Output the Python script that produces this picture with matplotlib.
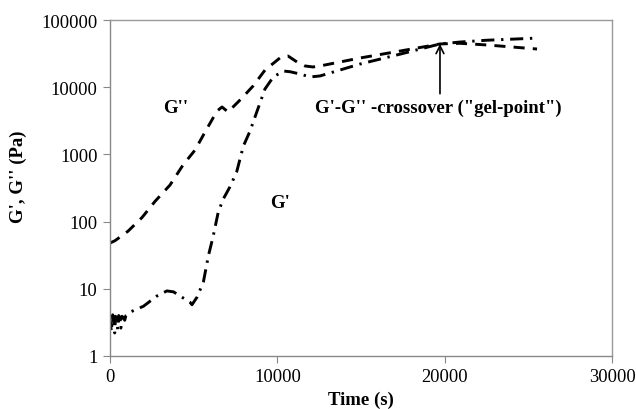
import matplotlib
matplotlib.use("Agg")
import matplotlib.pyplot as plt

# G'' (loss modulus), dashed
time_g2 = [0, 300, 1076, 1913, 2690, 3586, 4363, 5081, 5678, 6396, 6694, 7053, 7830,
           8548, 9265, 10221, 10640, 11178, 11656, 12130, 12550, 14940, 17330, 19720,
           20920, 22530, 25520]
g2 = [48, 52, 72, 115, 200, 350, 695, 1160, 2150, 4420, 5080, 4280, 6670,
      10400, 18000, 28100, 29100, 23700, 20700, 20000, 20700, 27200, 34500, 44000,
      45000, 42500, 37000]

# G' (storage modulus), dash-dot
time_g1 = [0, 80, 160, 200, 280, 330, 400, 460, 520, 600, 650, 720, 800, 880, 950,
           1200, 2000, 2800, 3400, 3800, 4300, 4780, 4900, 5200, 5580, 5880, 6170,
           6470, 6770, 7170, 7570, 7970, 8370, 8770, 9260, 9760, 10360, 10760, 11360,
           11950, 12550, 14940, 17330, 19720, 20920, 22530, 25520]
g1 = [3.8, 2.3, 4.1, 3.5, 2.2, 3.9, 3.6, 2.5, 4.0, 3.7, 2.6, 3.9, 3.7, 3.4, 4.0,
      4.5, 5.5, 7.8, 9.3, 9.0, 7.5, 6.3, 5.8, 7.5, 12.6, 31, 61,
      139, 217, 330, 550, 1330, 2230, 4270, 9400, 14200, 17400, 17000, 15700,
      14200, 14700, 22100, 31000, 44000, 47000, 50000, 53800]

x_ticks = [0, 10000, 20000, 30000]
y_ticks = [1, 10, 100, 1000, 10000, 100000]
y_tick_labels = ["1", "10", "100", "1000", "10000", "100000"]

plt.rcParams['font.family'] = ['Liberation Serif', 'DejaVu Serif']

fig = plt.figure(figsize=(6.36, 4.10), dpi=100)
ax = fig.add_axes([110/636, 1 - 357/410, (612-110)/636, (357-21)/410])

ax.plot(time_g2, g2, color='black', lw=2.1, linestyle=(0, (3.8, 2.8)))
ax.plot(time_g1, g1, color='black', lw=2.1, linestyle=(0, (4.5, 2.3, 0.8, 2.3)))

ax.set_yscale('log')
ax.set_xlim(0, 30000)
ax.set_ylim(1, 100000)
ax.set_xticks(x_ticks)
ax.set_xticklabels([str(t) for t in x_ticks])
ax.set_yticks(y_ticks)
ax.set_yticklabels(y_tick_labels)
ax.yaxis.set_minor_locator(matplotlib.ticker.NullLocator())
ax.tick_params(axis='both', direction='out', length=5, width=0.8, color='#888888',
               labelsize=13.3, pad=4)

for side in ['top', 'right']:
    ax.spines[side].set_color('#999999')
for side in ['left', 'bottom']:
    ax.spines[side].set_color('#888888')
for s in ax.spines.values():
    s.set_linewidth(1.0)

ax.set_xlabel("Time (s)", fontsize=13.5, fontweight='bold', labelpad=4)
ax.set_ylabel("G', G'' (Pa)", fontsize=13.5, fontweight='bold', labelpad=10, y=0.535)

ax.text(3945, 5070, "G''", fontsize=13.5, fontweight='bold', ha='center', va='center')
ax.text(10160, 190, "G'", fontsize=13.5, fontweight='bold', ha='center', va='center')
ax.text(19600, 5100, "G'-G'' -crossover (\"gel-point\")", fontsize=13.5,
        fontweight='bold', ha='center', va='center')
ax.annotate("", xy=(19720, 44000), xytext=(19720, 8000),
            arrowprops=dict(arrowstyle='->', color='black', lw=1.2,
                            mutation_scale=14, shrinkA=0, shrinkB=0))

fig.savefig("out.png", dpi=100)
